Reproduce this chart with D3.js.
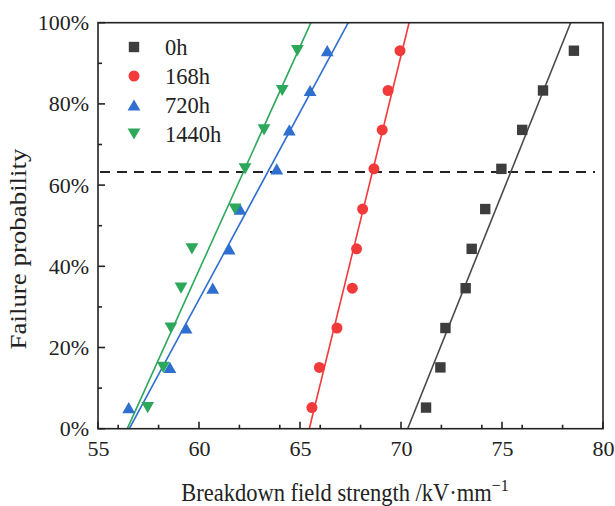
<!DOCTYPE html>
<html>
<head>
<meta charset="utf-8">
<script src="https://cdn.jsdelivr.net/npm/d3@7"></script>
<style>
  html, body { margin: 0; padding: 0; background: #fff; }
  svg { display: block; }
  text { font-family: "Liberation Serif", "Times New Roman", serif; fill: #222; }
</style>
</head>
<body>
<svg id="chart" width="615" height="506"></svg>
<script>
// ---- data ----
const seriesNames = ["0h", "168h", "720h", "1440h"];
const probabilities = [5.2, 15.1, 24.8, 34.6, 44.3, 54.1, 64.0, 73.6, 83.3, 93.1];
const field0h    = [71.24, 71.95, 72.2, 73.2, 73.5, 74.17, 74.97, 76.0, 77.03, 78.56];
const field168h  = [65.59, 65.96, 66.83, 67.59, 67.8, 68.1, 68.66, 69.07, 69.36, 69.95];
const field720h  = [56.52, 58.56, 59.36, 60.68, 61.49, 62.03, 63.85, 64.47, 65.5, 66.35];
const field1440h = [57.46, 58.23, 58.61, 59.11, 59.65, 61.78, 62.28, 63.22, 64.12, 64.87];
// fitted lines: field at 0% and at 100%
const fitStart = [70.33, 65.46, 56.55, 56.45];
const fitEnd   = [78.40, 70.40, 67.39, 65.54];
const referenceProbability = 63.2;
const xTicks = [55, 60, 65, 70, 75, 80];
const yTicks = [0, 20, 40, 60, 80, 100];

const colors = ["#3d3d3d", "#f23a3a", "#2f6fcf", "#2da85a"];
const lineColors = ["#4a4a4a", "#f23a3a", "#2f6fcf", "#2da85a"];
const fields = [field0h, field168h, field720h, field1440h];

const svg = d3.select("#chart");
const m = { left: 98, right: 603, top: 22.7, bottom: 428.7 };
const x = d3.scaleLinear().domain([55, 80]).range([m.left, m.right]);
const y = d3.scaleLinear().domain([0, 100]).range([m.bottom, m.top]);

svg.append("clipPath").attr("id", "clip").append("rect")
  .attr("x", m.left).attr("y", m.top).attr("width", m.right - m.left).attr("height", m.bottom - m.top);

// dashed reference line
svg.append("line")
  .attr("x1", m.left + 2).attr("x2", m.right - 8)
  .attr("y1", y(referenceProbability)).attr("y2", y(referenceProbability))
  .attr("stroke", "#222").attr("stroke-width", 2).attr("stroke-dasharray", "10,7");

// fit lines
const gLines = svg.append("g").attr("clip-path", "url(#clip)");
seriesNames.forEach((s, i) => {
  gLines.append("line")
    .attr("x1", x(fitStart[i])).attr("y1", y(0))
    .attr("x2", x(fitEnd[i])).attr("y2", y(100))
    .attr("stroke", lineColors[i]).attr("stroke-width", 1.6);
});

function marker(g, i, cx, cy) {
  if (i === 0) {
    g.append("rect").attr("x", cx - 5.2).attr("y", cy - 5.2).attr("width", 10.4).attr("height", 10.4).attr("fill", colors[i]);
  } else if (i === 1) {
    g.append("circle").attr("cx", cx).attr("cy", cy).attr("r", 5.5).attr("fill", colors[i]);
  } else if (i === 2) {
    const w = 6.4, h = 5.6;
    g.append("path").attr("d", `M${cx},${cy - h} L${cx + w},${cy + h} L${cx - w},${cy + h} Z`).attr("fill", colors[i]);
  } else {
    const w = 6.4, h = 5.6;
    g.append("path").attr("d", `M${cx},${cy + h} L${cx + w},${cy - h} L${cx - w},${cy - h} Z`).attr("fill", colors[i]);
  }
}

// points
const gPts = svg.append("g");
fields.forEach((arr, i) => {
  arr.forEach((v, j) => marker(gPts, i, x(v), y(probabilities[j])));
});

// frame
svg.append("rect").attr("x", m.left).attr("y", m.top)
  .attr("width", m.right - m.left).attr("height", m.bottom - m.top)
  .attr("fill", "none").attr("stroke", "#222").attr("stroke-width", 1.6);

// axes
const xAxis = d3.axisBottom(x).tickValues(xTicks).tickSize(0).tickPadding(12).tickFormat(d3.format("d"));
const gx = svg.append("g").attr("transform", `translate(0,${m.bottom})`).call(xAxis);
gx.select(".domain").remove();
gx.selectAll("text").style("font-size", "22px").attr("fill", "#222").style("font-family", "Liberation Serif");

const yAxis = d3.axisLeft(y).tickValues(yTicks).tickSize(0).tickPadding(9).tickFormat(d => d + "%");
const gy = svg.append("g").attr("transform", `translate(${m.left},0)`).call(yAxis);
gy.select(".domain").remove();
gy.selectAll("text").style("font-size", "22px").attr("fill", "#222").style("font-family", "Liberation Serif");

// inward tick marks (major & minor)
const xMinor = x.ticks(10).filter(t => !xTicks.includes(t));
const tickG = svg.append("g").attr("stroke", "#222").attr("stroke-width", 1.6);
xTicks.forEach(t => tickG.append("line").attr("x1", x(t)).attr("x2", x(t)).attr("y1", m.bottom).attr("y2", m.bottom - 7));
xMinor.forEach(t => tickG.append("line").attr("x1", x(t)).attr("x2", x(t)).attr("y1", m.bottom).attr("y2", m.bottom - 4));
const yMinor = y.ticks(10).filter(t => !yTicks.includes(t));
yTicks.forEach(t => tickG.append("line").attr("y1", y(t)).attr("y2", y(t)).attr("x1", m.left).attr("x2", m.left + 7));
yMinor.forEach(t => tickG.append("line").attr("y1", y(t)).attr("y2", y(t)).attr("x1", m.left).attr("x2", m.left + 4));

// axis titles
svg.append("text").attr("transform", "translate(345,501) scale(1,1.1)")
  .attr("text-anchor", "middle").style("font-size", "22.5px")
  .call(t => {
    t.append("tspan").text("Breakdown field strength /kV·mm");
    t.append("tspan").attr("dy", -9).style("font-size", "16px").text("−1");
  });
svg.append("text").attr("transform", `translate(25.5,249) rotate(-90) scale(1.17,1)`)
  .attr("text-anchor", "middle").style("font-size", "23px").text("Failure probability");

// legend
const lg = svg.append("g");
seriesNames.forEach((s, i) => {
  const ly = 47 + i * 29;
  marker(lg, i, 134, ly);
  lg.append("text").attr("x", 165).attr("y", ly).attr("dy", "0.36em").style("font-size", "22.5px").text(s);
});
</script>
</body>
</html>
